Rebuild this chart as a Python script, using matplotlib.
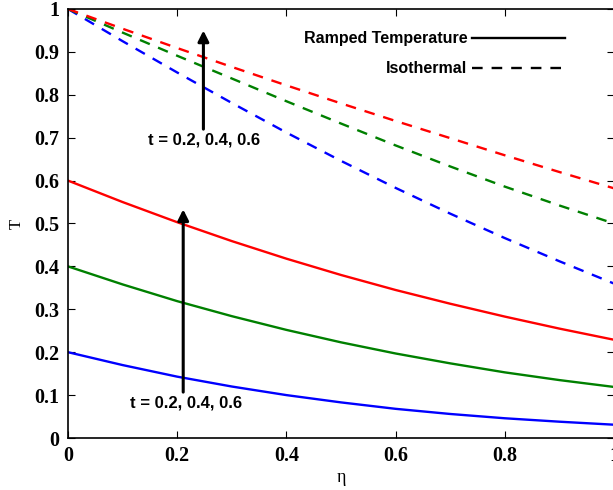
import numpy as np
import matplotlib
matplotlib.use('Agg')
import matplotlib.pyplot as plt
from matplotlib.lines import Line2D

# eta grid and temperature profiles
eta = [0.0, 0.1, 0.2, 0.3, 0.4, 0.5, 0.6, 0.7, 0.8, 0.9, 1.0]

# ramped temperature (solid), t = 0.2, 0.4, 0.6
ramp_t02 = [0.200, 0.170, 0.143, 0.120, 0.100, 0.083, 0.068, 0.056, 0.046, 0.038, 0.031]
ramp_t04 = [0.400, 0.358, 0.319, 0.284, 0.252, 0.223, 0.197, 0.174, 0.153, 0.135, 0.119]
ramp_t06 = [0.600, 0.550, 0.503, 0.459, 0.418, 0.380, 0.345, 0.313, 0.283, 0.255, 0.229]

# isothermal (dashed), t = 0.2, 0.4, 0.6
iso_t02 = [1.0, 0.925, 0.852, 0.781, 0.712, 0.646, 0.583, 0.523, 0.466, 0.412, 0.360]
iso_t04 = [1.0, 0.945, 0.891, 0.838, 0.785, 0.733, 0.682, 0.633, 0.586, 0.542, 0.500]
iso_t06 = [1.0, 0.954, 0.909, 0.865, 0.822, 0.780, 0.739, 0.699, 0.659, 0.620, 0.582]

colors = ['#0000ff', '#008000', '#ff0000']
xticks = [0, 0.2, 0.4, 0.6, 0.8, 1]
xticklabels = ['0', '0.2', '0.4', '0.6', '0.8', '1']
yticks = [0, 0.1, 0.2, 0.3, 0.4, 0.5, 0.6, 0.7, 0.8, 0.9, 1]
yticklabels = ['0', '0.1', '0.2', '0.3', '0.4', '0.5', '0.6', '0.7', '0.8', '0.9', '1']
arrow_label = 't = 0.2, 0.4, 0.6'

fig = plt.figure(figsize=(6.13, 4.9), dpi=100)
ax = fig.add_axes([68 / 613, 52 / 490, 546 / 613, 429 / 490])

dash = (0, (4.5, 3.8))
for y, c in zip([ramp_t02, ramp_t04, ramp_t06], colors):
    ax.plot(eta, y, color=c, lw=1.7)
for y, c in zip([iso_t02, iso_t04, iso_t06], colors):
    ax.plot(eta, y, color=c, lw=1.7, linestyle=dash)

ax.set_xlim(0, 1)
ax.set_ylim(0, 1)
ax.set_xticks(xticks)
ax.set_xticklabels(xticklabels)
ax.set_yticks(yticks)
ax.set_yticklabels(yticklabels)
ax.tick_params(direction='in', length=5, width=0.8, top=True, right=True, pad=6)
for lab in ax.get_xticklabels() + ax.get_yticklabels():
    lab.set_fontfamily('Liberation Serif')
    lab.set_fontweight('bold')
    lab.set_fontsize(14.5)
for s in ax.spines.values():
    s.set_linewidth(1.2)

ax.set_xlabel('η', fontfamily='Liberation Serif', fontsize=13, labelpad=2)
ax.set_ylabel('T', fontfamily='Liberation Serif', fontsize=12, labelpad=7)

# arrows showing increasing t
arw = dict(arrowstyle='-|>', lw=2.2, color='k', mutation_scale=16, shrinkA=0, shrinkB=0)
ax.annotate('', xy=(0.248, 0.95), xytext=(0.248, 0.72), arrowprops=arw)
ax.annotate('', xy=(0.211, 0.533), xytext=(0.211, 0.107), arrowprops=arw)
ax.text(0.250, 0.695, arrow_label, ha='center', va='center',
        fontfamily='Liberation Sans', fontweight='bold', fontsize=12)
ax.text(0.216, 0.082, arrow_label, ha='center', va='center',
        fontfamily='Liberation Sans', fontweight='bold', fontsize=12)

handles = [Line2D([], [], color='k', lw=1.7),
           Line2D([], [], color='k', lw=1.7, linestyle=dash)]
leg = ax.legend(handles, ['Ramped Temperature', 'Isothermal'], loc='upper right',
                bbox_to_anchor=(0.936, 0.982), frameon=False, markerfirst=False,
                handlelength=5.8, handletextpad=0.3, labelspacing=0.95,
                prop={'family': 'Liberation Sans', 'weight': 'bold', 'size': 11.5})

fig.savefig('out.png', dpi=100)
